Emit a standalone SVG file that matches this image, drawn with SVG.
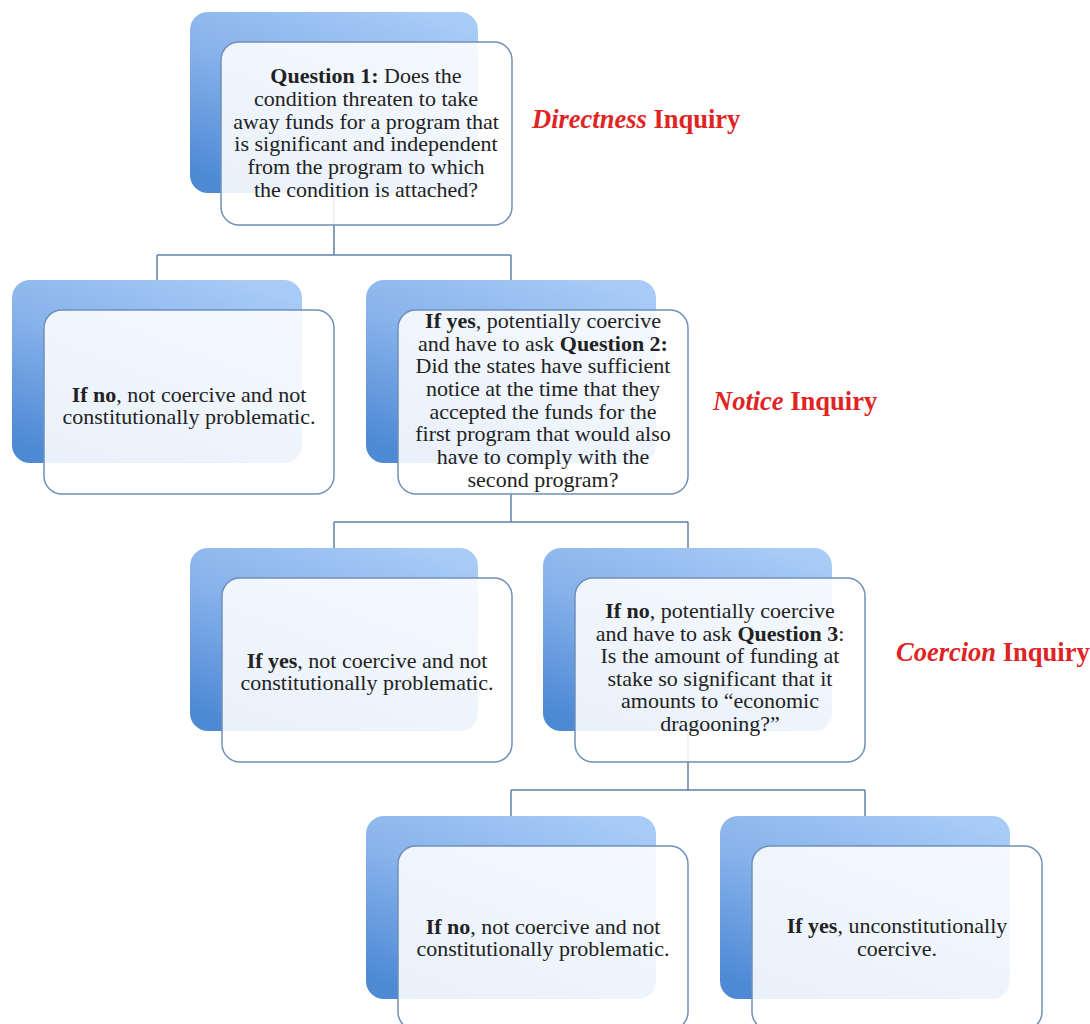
<svg xmlns="http://www.w3.org/2000/svg" width="1090" height="1024" viewBox="0 0 1090 1024">
<defs>
<linearGradient id="bg" x1="0.8" y1="0" x2="0.2" y2="1">
<stop offset="0" stop-color="#a8cbf7"/>
<stop offset="0.5" stop-color="#86b1ea"/>
<stop offset="1" stop-color="#4d89d5"/>
</linearGradient>
<style>
.back{fill:url(#bg);}
.front{fill:#ffffff;fill-opacity:0.88;stroke:#6f90b8;stroke-width:1.5;}
.conn{fill:none;stroke:#5f82ab;stroke-width:1.5;}
.t{font-family:'Liberation Serif','Times New Roman',serif;font-size:22px;fill:#222222;text-anchor:middle;}
.b{font-weight:bold;}
.lab{font-family:'Liberation Serif','Times New Roman',serif;font-size:26.5px;font-weight:bold;fill:#e02424;}
.i{font-style:italic;}
</style>
</defs>
<rect width="1090" height="1024" fill="#ffffff"/>
<g id="connectors">
<path class="conn" d="M334,193 V255 M157,255 H511 M157,255 V280 M511,255 V280"/>
<path class="conn" d="M511,463 V522 M334,522 H688 M334,522 V548 M688,522 V548"/>
<path class="conn" d="M688,731 V790 M511,790 H865 M511,790 V816 M865,790 V816"/>
</g>
<g id="node-q1">
<rect class="back" x="190" y="12" width="288" height="181" rx="18"/>
<rect class="front" x="221" y="42" width="291" height="183" rx="18"/>
<text class="t"><tspan x="366" y="83"><tspan class="b">Question 1:</tspan> Does the</tspan><tspan x="366" y="106">condition threaten to take</tspan><tspan x="366" y="129">away funds for a program that</tspan><tspan x="366" y="151">is significant and independent</tspan><tspan x="366" y="174">from the program to which</tspan><tspan x="366" y="197">the condition is attached?</tspan></text>
</g>
<g id="node-no1">
<rect class="back" x="12" y="280" width="290" height="183" rx="18"/>
<rect class="front" x="44" y="310" width="290" height="184" rx="18"/>
<text class="t"><tspan x="189" y="402"><tspan class="b">If no</tspan>, not coercive and not</tspan><tspan x="189" y="424">constitutionally problematic.</tspan></text>
</g>
<g id="node-q2">
<rect class="back" x="366" y="280" width="290" height="183" rx="18"/>
<rect class="front" x="398" y="310" width="290" height="184" rx="18"/>
<text class="t"><tspan x="543" y="328"><tspan class="b">If yes</tspan>, potentially coercive</tspan><tspan x="543" y="351">and have to ask <tspan class="b">Question 2:</tspan></tspan><tspan x="543" y="373">Did the states have sufficient</tspan><tspan x="543" y="396">notice at the time that they</tspan><tspan x="543" y="419">accepted the funds for the</tspan><tspan x="543" y="441">first program that would also</tspan><tspan x="543" y="464">have to comply with the</tspan><tspan x="543" y="487">second program?</tspan></text>
</g>
<g id="node-yes2">
<rect class="back" x="190" y="548" width="288" height="183" rx="18"/>
<rect class="front" x="222" y="578" width="290" height="184" rx="18"/>
<text class="t"><tspan x="367" y="668"><tspan class="b">If yes</tspan>, not coercive and not</tspan><tspan x="367" y="690">constitutionally problematic.</tspan></text>
</g>
<g id="node-q3">
<rect class="back" x="543" y="548" width="289" height="183" rx="18"/>
<rect class="front" x="575" y="578" width="290" height="184" rx="18"/>
<text class="t"><tspan x="720" y="618"><tspan class="b">If no</tspan>, potentially coercive</tspan><tspan x="720" y="641">and have to ask <tspan class="b">Question 3</tspan>:</tspan><tspan x="720" y="663">Is the amount of funding at</tspan><tspan x="720" y="686">stake so significant that it</tspan><tspan x="720" y="708">amounts to “economic</tspan><tspan x="720" y="731">dragooning?”</tspan></text>
</g>
<g id="node-no3">
<rect class="back" x="366" y="816" width="290" height="183" rx="18"/>
<rect class="front" x="398" y="846" width="290" height="184" rx="18"/>
<text class="t"><tspan x="543" y="934"><tspan class="b">If no</tspan>, not coercive and not</tspan><tspan x="543" y="956">constitutionally problematic.</tspan></text>
</g>
<g id="node-yes3">
<rect class="back" x="720" y="816" width="290" height="183" rx="18"/>
<rect class="front" x="752" y="846" width="290" height="184" rx="18"/>
<text class="t"><tspan x="897" y="933"><tspan class="b">If yes</tspan>, unconstitutionally</tspan><tspan x="897" y="956">coercive.</tspan></text>
</g>
<g id="labels">
<text class="lab" x="532" y="128"><tspan class="i">Directness</tspan> Inquiry</text>
<text class="lab" x="713" y="410"><tspan class="i">Notice</tspan> Inquiry</text>
<text class="lab" x="896" y="661"><tspan class="i">Coercion</tspan> Inquiry</text>
</g>
</svg>
